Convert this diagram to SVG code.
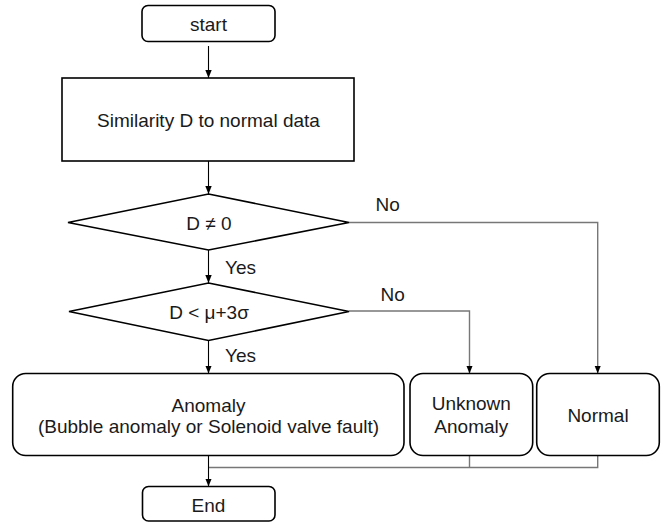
<svg xmlns="http://www.w3.org/2000/svg" width="662" height="522" viewBox="0 0 662 522">
<style>
.box{fill:#fff;stroke:#000;stroke-width:1.6}
.t{font-family:"Liberation Sans",Arial,sans-serif;font-size:19px;fill:#1a1a1a;text-anchor:middle}
.lbl{font-family:"Liberation Sans",Arial,sans-serif;font-size:19px;fill:#1a1a1a}
.main{fill:none;stroke:#000;stroke-width:1.1}
.side{fill:none;stroke:#777;stroke-width:1.4}
</style>
<defs>
<marker id="ah" markerUnits="userSpaceOnUse" markerWidth="8" markerHeight="8" viewBox="0 0 8 8" refX="8" refY="4" orient="auto">
<path d="M0,0.8 L8,4 L0,7.2 Z" fill="#000"/>
</marker>
</defs>
<rect width="662" height="522" fill="#fff"/>
<g id="connectors">
<line class="main" x1="208.5" y1="46" x2="208.5" y2="78" marker-end="url(#ah)"/>
<line class="main" x1="208.5" y1="161" x2="208.5" y2="194" marker-end="url(#ah)"/>
<line class="main" x1="208.5" y1="250" x2="208.5" y2="283" marker-end="url(#ah)"/>
<line class="main" x1="208.5" y1="340.5" x2="208.5" y2="373.5" marker-end="url(#ah)"/>
<polyline class="side" points="349,222.5 597.7,222.5 597.7,373.5" marker-end="url(#ah)"/>
<polyline class="side" points="349,311 469.5,311 469.5,373.5" marker-end="url(#ah)"/>
<polyline class="side" points="469.5,455.5 469.5,467.5"/>
<polyline class="side" points="597.7,455.5 597.7,467.5 208.5,467.5"/>
<line class="main" x1="208.5" y1="455.5" x2="208.5" y2="486.5" marker-end="url(#ah)"/>
<text class="lbl" x="375.5" y="210.5">No</text>
<text class="lbl" x="380.5" y="301">No</text>
<text class="lbl" x="225" y="273.5">Yes</text>
<text class="lbl" x="225" y="362">Yes</text>
</g>
<g id="start">
<rect class="box" x="142" y="5.5" width="133" height="36" rx="6"/>
<text class="t" x="208.5" y="30.5">start</text>
</g>
<g id="similarity">
<rect class="box" x="62" y="78" width="292" height="83"/>
<text class="t" x="208.5" y="127">Similarity D to normal data</text>
</g>
<g id="decision1">
<polygon class="box" points="208.5,194 349,222.5 208.5,250 68,222.5"/>
<text class="t" x="209" y="229.5">D ≠ 0</text>
</g>
<g id="decision2">
<polygon class="box" points="208.5,283 349,311.5 208.5,340.5 69,311.5"/>
<text class="t" x="209" y="319">D &lt; μ+3σ</text>
</g>
<g id="anomaly">
<rect class="box" x="12.7" y="373.5" width="391.3" height="82" rx="13"/>
<text class="t" x="208.5" y="411.5">Anomaly</text>
<text class="t" x="208.5" y="432.5">(Bubble anomaly or Solenoid valve fault)</text>
</g>
<g id="unknown">
<rect class="box" x="410" y="373.5" width="122.7" height="82" rx="13"/>
<text class="t" x="471.3" y="410">Unknown</text>
<text class="t" x="471.3" y="432.5">Anomaly</text>
</g>
<g id="normal">
<rect class="box" x="536.7" y="373.5" width="122.6" height="82" rx="13"/>
<text class="t" x="598" y="422">Normal</text>
</g>
<g id="end">
<rect class="box" x="142.5" y="486.5" width="132.5" height="34.5" rx="6"/>
<text class="t" x="208.5" y="511.5">End</text>
</g>
</svg>
